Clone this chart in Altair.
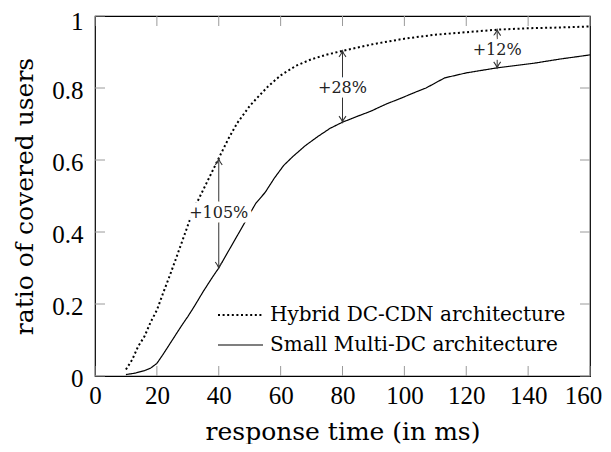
import altair as alt
import pandas as pd

# Series: Hybrid DC-CDN architecture (dotted)
hyb_x = [10, 12, 14, 16, 18, 20, 22, 24, 26, 28, 30, 32, 34, 36, 38, 40, 43, 46, 50, 53, 56, 60, 65, 70, 75, 80, 90, 100, 110, 120, 130, 140, 150, 160]
hyb_y = [0.018, 0.045, 0.083, 0.11, 0.15, 0.183, 0.23, 0.275, 0.322, 0.37, 0.418, 0.465, 0.5, 0.535, 0.57, 0.605, 0.657, 0.703, 0.75, 0.778, 0.805, 0.835, 0.862, 0.88, 0.893, 0.903, 0.922, 0.937, 0.948, 0.955, 0.962, 0.966, 0.968, 0.971]

# Series: Small Multi-DC architecture (solid)
sm_x = [10, 13, 16, 18, 20, 22, 25, 28, 30, 32, 35, 38, 40, 43, 46, 49, 52, 55, 58, 61, 64, 68, 72, 76, 80, 85, 89, 94, 99, 104, 107, 113, 120, 130, 142, 150, 160]
sm_y = [0.004, 0.008, 0.015, 0.022, 0.035, 0.06, 0.10, 0.14, 0.165, 0.192, 0.235, 0.275, 0.30, 0.345, 0.39, 0.435, 0.48, 0.51, 0.55, 0.585, 0.61, 0.64, 0.665, 0.688, 0.705, 0.722, 0.735, 0.755, 0.772, 0.79, 0.80, 0.828, 0.842, 0.856, 0.869, 0.88, 0.892]

series_names = ["Hybrid DC-CDN architecture", "Small Multi-DC architecture"]

# Annotations (arrows between the curves)
ann_x = [40, 80, 130]
ann_lo = [0.30, 0.705, 0.856]
ann_hi = [0.603, 0.903, 0.962]
ann_label_y = [0.453, 0.80, 0.906]
ann_text = ["+105%", "+28%", "+12%"]

# Tick values
x_ticks = [0, 20, 40, 60, 80, 100, 120, 140, 160]
y_ticks = [0, 0.2, 0.4, 0.6, 0.8, 1]

W, H = 495, 360

lines_df = pd.concat([
    pd.DataFrame({"x": hyb_x, "y": hyb_y, "series": series_names[0], "order": range(len(hyb_x))}),
    pd.DataFrame({"x": sm_x, "y": sm_y, "series": series_names[1], "order": range(len(sm_x))}),
])
ann_df = pd.DataFrame({"x": ann_x, "lo": ann_lo, "hi": ann_hi, "ly": ann_label_y, "text": ann_text})
xt_df = pd.DataFrame({"x": x_ticks})
yt_df = pd.DataFrame({"y": y_ticks})

xscale = alt.Scale(domain=[0, 160], nice=False, zero=False)
yscale = alt.Scale(domain=[0, 1], nice=False, zero=False)
xaxis = alt.Axis(values=x_ticks, title="response time (in ms)", labelPadding=7, titlePadding=11,
                 labelFlush=False, labelOverlap=False,
                 labelOffset=alt.expr("datum.value >= 160 ? -7 : 0"))
yaxis = alt.Axis(values=y_ticks, format="~g", title="ratio of covered users",
                 labelPadding=12, titlePadding=14, labelFlush=False, labelOverlap=False,
                 labelOffset=alt.expr("datum.value >= 1 ? 5 : 2"))


def X(field):
    return alt.X(field, type="quantitative", scale=xscale, axis=xaxis)


def Y(field):
    return alt.Y(field, type="quantitative", scale=yscale, axis=yaxis)


leg = alt.Legend(title=None, orient="none", legendX=122, legendY=284,
                 symbolType="stroke", symbolSize=2025, symbolStrokeColor="black",
                 clipHeight=30, rowPadding=0,
                 labelFont="DejaVu Serif", labelFontSize=20, labelLimit=0,
                 labelColor="black", labelOffset=6, padding=0)

lines = alt.Chart(lines_df).mark_line(color="black").encode(
    x=X("x"), y=Y("y"),
    order="order:Q",
    strokeDash=alt.StrokeDash("series:N",
                              scale=alt.Scale(domain=series_names, range=[[2, 2.6], [1, 0]]),
                              legend=leg),
    strokeWidth=alt.StrokeWidth("series:N",
                                scale=alt.Scale(domain=series_names, range=[2, 1.2]),
                                legend=leg),
)

tick_color = "#9a9a9a"
tl = 10
xt_bottom = alt.Chart(xt_df).mark_rule(color=tick_color, strokeWidth=1).encode(
    x=X("x"), y=alt.value(H), y2=alt.value(H - tl))
xt_top = alt.Chart(xt_df).mark_rule(color=tick_color, strokeWidth=1).encode(
    x=X("x"), y=alt.value(0), y2=alt.value(tl))
yt_left = alt.Chart(yt_df).mark_rule(color=tick_color, strokeWidth=1).encode(
    y=Y("y"), x=alt.value(0), x2=alt.value(tl))
yt_right = alt.Chart(yt_df).mark_rule(color=tick_color, strokeWidth=1).encode(
    y=Y("y"), x=alt.value(W - tl), x2=alt.value(W))

arrow_color = "#333333"
arrows = alt.Chart(ann_df).mark_rule(color=arrow_color, strokeWidth=1).encode(
    x=X("x"), y=Y("lo"), y2="hi:Q")

head_up = "M-0.55,0.95 Q-0.15,0.45 0,0 Q0.15,0.45 0.55,0.95"
head_down = "M-0.55,-0.95 Q-0.15,-0.45 0,0 Q0.15,-0.45 0.55,-0.95"
heads_up = alt.Chart(ann_df).mark_point(shape=head_up, filled=False, stroke=arrow_color,
                                        strokeWidth=1.1, size=160, opacity=1).encode(
    x=X("x"), y=Y("hi"))
heads_down = alt.Chart(ann_df).mark_point(shape=head_down, filled=False, stroke=arrow_color,
                                          strokeWidth=1.1, size=160, opacity=1).encode(
    x=X("x"), y=Y("lo"))

halo = alt.Chart(ann_df).mark_text(font="DejaVu Serif", fontSize=16, stroke="white",
                                   strokeWidth=9, fill="white", baseline="middle").encode(
    x=X("x"), y=Y("ly"), text="text:N")
labels = alt.Chart(ann_df).mark_text(font="DejaVu Serif", fontSize=16, color="#222222",
                                     baseline="middle").encode(
    x=X("x"), y=Y("ly"), text="text:N")

chart = alt.layer(
    xt_bottom, xt_top, yt_left, yt_right, lines, arrows, heads_up, heads_down, halo, labels
).properties(
    width=W, height=H,
    autosize=alt.AutoSizeParams(type="none"),
    padding={"left": 87, "top": 8, "right": 13, "bottom": 68},
).configure_view(
    stroke="black", strokeWidth=1.2
).configure_axis(
    grid=False, domain=False, ticks=False,
    labelFont="Liberation Serif", labelFontSize=25, labelColor="black",
    titleFont="DejaVu Serif", titleFontSize=25, titleFontWeight="normal", titleColor="black",
)

chart.save("out.html", embed_options={"renderer": "svg", "actions": False})
